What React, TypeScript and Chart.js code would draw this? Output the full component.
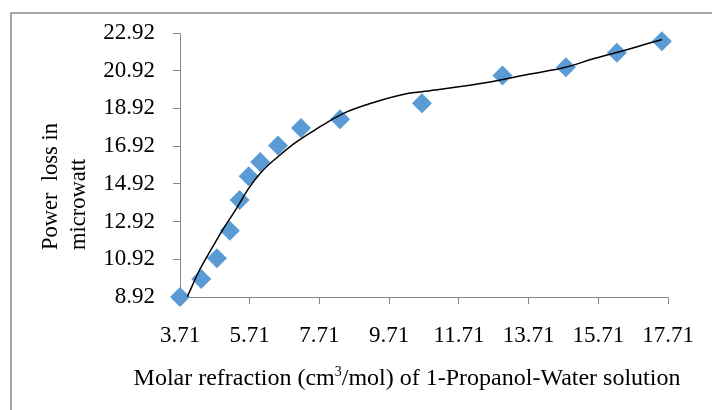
import React, { useEffect, useRef } from "react";
import { Chart, registerables } from "chart.js";

Chart.register(...registerables);

const xTicks = [3.71, 5.71, 7.71, 9.71, 11.71, 13.71, 15.71, 17.71];
const yTicks = [8.92, 10.92, 12.92, 14.92, 16.92, 18.92, 20.92, 22.92];

const molarRefraction = [3.71, 4.32, 4.77, 5.14, 5.42, 5.68, 6.01, 6.52, 7.18, 8.3, 10.65, 12.96, 14.78, 16.24, 17.53];
const powerLoss = [8.92, 9.87, 10.98, 12.43, 14.07, 15.32, 16.08, 16.96, 17.88, 18.34, 19.2, 20.67, 21.11, 21.87, 22.48];

const trendX = [3.92, 4.27, 4.65, 4.93, 5.3, 5.68, 6.05, 6.52, 6.99, 7.65, 8.4, 9.24, 10.27, 10.65, 12.24, 13.74, 14.77, 15.61, 16.55, 17.53];
const trendY = [8.94, 10.35, 11.59, 12.47, 13.53, 14.68, 15.56, 16.36, 17.07, 17.86, 18.66, 19.22, 19.72, 19.81, 20.21, 20.74, 21.1, 21.58, 22.05, 22.58];

const xTitleParts = ["Molar refraction (cm", "3", "/mol) of 1-Propanol-Water solution"];
const yTitleLines = ["Power  loss in", "microwatt"];

const FONT = "'Liberation Serif', 'Times New Roman', serif";

const titlesPlugin = {
  id: "customTitles",
  afterDraw(chart: any) {
    const ctx = chart.ctx;
    ctx.save();
    // frame
    ctx.strokeStyle = "#8a8a8a";
    ctx.lineWidth = 1.5;
    ctx.beginPath();
    ctx.moveTo(11, 420);
    ctx.lineTo(11, 13);
    ctx.lineTo(720, 13);
    ctx.stroke();

    ctx.fillStyle = "#000";
    const big = "24px " + FONT;
    const small = "14px " + FONT;
    ctx.font = big;
    const w0 = ctx.measureText(xTitleParts[0]).width;
    const w2 = ctx.measureText(xTitleParts[2]).width;
    ctx.font = small;
    const w1 = ctx.measureText(xTitleParts[1]).width;
    const total = w0 + w1 + w2;
    let x = 407 - total / 2;
    const baseY = 385;
    ctx.textBaseline = "alphabetic";
    ctx.textAlign = "left";
    ctx.font = big;
    ctx.fillText(xTitleParts[0], x, baseY);
    x += w0;
    ctx.font = small;
    ctx.fillText(xTitleParts[1], x, baseY - 9);
    x += w1;
    ctx.font = big;
    ctx.fillText(xTitleParts[2], x, baseY);

    // y title rotated
    ctx.font = "22.5px " + FONT;
    ctx.translate(0, 250);
    ctx.rotate(-Math.PI / 2);
    ctx.fillText(yTitleLines[0], 0, 57);
    ctx.fillText(yTitleLines[1], 0, 85);
    ctx.restore();
  },
};

export default function App() {
  const ref = useRef<HTMLCanvasElement>(null);
  useEffect(() => {
    if (!ref.current) return;
    const chart = new Chart(ref.current, {
      type: "scatter",
      data: {
        datasets: [
          {
            type: "line",
            data: trendX.map((v, i) => ({ x: v, y: trendY[i] })),
            borderColor: "#000",
            borderWidth: 1.5,
            pointRadius: 0,
            tension: 0.4,
            cubicInterpolationMode: "monotone",
            fill: false,
            clip: false as any,
          },
          {
            data: molarRefraction.map((v, i) => ({ x: v, y: powerLoss[i] })),
            backgroundColor: "#5B9BD5",
            borderWidth: 0,
            pointStyle: "rectRot",
            pointRadius: 10,
            clip: false as any,
          },
        ],
      },
      options: {
        animation: false,
        responsive: false,
        maintainAspectRatio: false,
        layout: { padding: { left: 0, top: 33, right: 34, bottom: 0 } },
        plugins: { legend: { display: false }, tooltip: { enabled: false } },
        scales: {
          x: {
            type: "linear",
            min: 3.71,
            max: 17.71,
            afterBuildTicks: (s: any) => {
              s.ticks = xTicks.map((v) => ({ value: v }));
            },
            afterFit: (s: any) => {
              s.height = 113;
            },
            grid: { display: true, drawOnChartArea: false, drawTicks: true, tickLength: 7, color: "#888", lineWidth: 1 },
            border: { display: true, color: "#888", width: 1 },
            ticks: {
              color: "#000",
              font: { family: FONT, size: 23 },
              padding: 18,
              maxRotation: 0,
              autoSkip: false,
              callback: (v: any) => Number(v).toFixed(2),
            },
          },
          y: {
            type: "linear",
            min: 8.92,
            max: 22.92,
            afterBuildTicks: (s: any) => {
              s.ticks = yTicks.map((v) => ({ value: v }));
            },
            afterFit: (s: any) => {
              s.width = 180;
            },
            grid: { display: true, drawOnChartArea: false, drawTicks: true, tickLength: 7, color: "#888", lineWidth: 1 },
            border: { display: true, color: "#888", width: 1 },
            ticks: {
              color: "#000",
              font: { family: FONT, size: 23 },
              padding: 18,
              autoSkip: false,
              callback: (v: any) => Number(v).toFixed(2),
            },
          },
        },
      },
      plugins: [titlesPlugin],
    });
    return () => chart.destroy();
  }, []);
  return (
    <div style={{ position: "absolute", left: 0, top: 0, width: 712, height: 410, background: "#fff" }}>
      <canvas ref={ref} width={712} height={410} style={{ width: 712, height: 410 }} />
    </div>
  );
}
